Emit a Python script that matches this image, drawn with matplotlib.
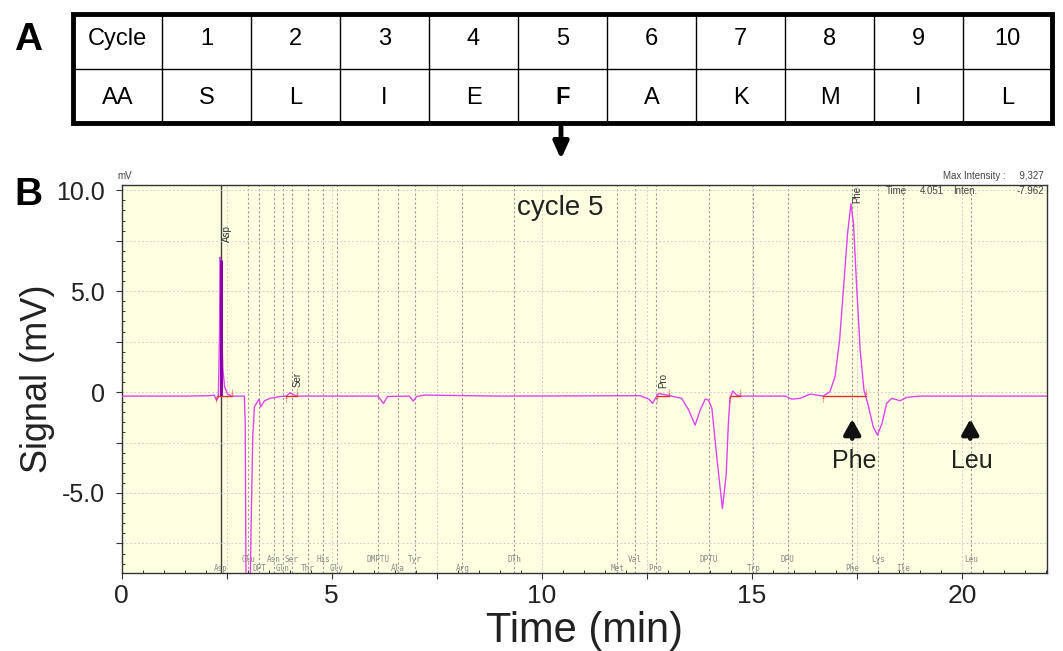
import numpy as np
import matplotlib.pyplot as plt
from matplotlib.ticker import MultipleLocator

plt.rcParams['font.family'] = ['Liberation Sans', 'DejaVu Sans']

# panel A: sequencing table
cycle_row = ["Cycle", "1", "2", "3", "4", "5", "6", "7", "8", "9", "10"]
aa_row = ["AA", "S", "L", "I", "E", "F", "A", "K", "M", "I", "L"]

# panel B: chromatogram trace (min, mV)
trace_t = [0.0, 1.5, 2.10, 2.20, 2.26, 2.30, 2.33, 2.34, 2.36, 2.38, 2.41, 2.45,
           2.52, 2.62, 2.92, 2.94, 2.96, 3.06, 3.08, 3.12, 3.16, 3.23, 3.27,
           3.31, 3.40, 3.53, 3.77, 3.92, 4.01, 4.10, 4.20, 6.10, 6.23, 6.33,
           6.85, 6.94, 7.02, 7.20, 9.0, 12.34, 12.55, 12.64, 12.72, 12.78,
           12.90, 13.05, 13.33, 13.50, 13.65, 13.77, 13.89, 13.97, 14.05,
           14.17, 14.30, 14.39, 14.44, 14.48, 14.55, 14.64, 14.75, 15.80,
           15.95, 16.15, 16.39, 16.70, 16.86, 16.98, 17.09, 17.18, 17.28,
           17.36, 17.42, 17.50, 17.58, 17.67, 17.78, 17.89, 17.99, 18.10,
           18.21, 18.33, 18.53, 18.69, 19.0, 22.02]
trace_mv = [-0.20, -0.20, -0.18, -0.15, -0.42, -0.25, 3.0, 6.68, 6.5, 3.0, 1.1, 0.26,
            -0.10, -0.20, -0.20, -1.5, -9.5, -9.5, -6.7, -2.2, -0.73, -0.48, -0.36,
            -0.73, -0.43, -0.31, -0.22, -0.20, -0.03, -0.15, -0.20, -0.20, -0.56, -0.22,
            -0.20, -0.45, -0.22, -0.15, -0.20, -0.18, -0.35, -0.56, -0.25, -0.07,
            -0.12, -0.18, -0.31, -0.90, -1.64, -0.90, -0.35, -0.40, -0.81,
            -3.29, -5.77, -4.10, -1.64, -0.30, 0.05, -0.15, -0.20, -0.20,
            -0.35, -0.31, -0.10, -0.20, 0.02, 0.76, 2.58, 5.06, 7.87,
            9.33, 8.36, 5.06, 2.08, 0.10, -0.73, -1.72, -2.13, -1.55,
            -0.56, -0.31, -0.43, -0.26, -0.20, -0.20]
asp_spike_t = 2.355
asp_spike_top = 6.55
baseline = -0.2

# integrated peaks (start, end)
peak_start = [2.26, 3.91, 12.74, 14.48, 16.70]
peak_end = [2.62, 4.17, 13.03, 14.72, 17.71]

# peak names written on the trace
peak_names = ["Asp", "Ser", "Pro", "Phe"]
peak_name_t = [2.50, 4.18, 12.90, 17.50]
peak_name_y = [7.44, 0.25, 0.20, 9.37]

# standard retention times
std_names_top = ["Glu", "Asn", "Ser", "His", "DMPTU", "Tyr", "DTh", "Val",
                 "DPTU", "DPU", "Lys", "Leu"]
std_t_top = [3.01, 3.63, 4.05, 4.80, 6.10, 6.98, 9.35, 12.22, 13.97, 15.86,
             18.01, 20.22]
std_names_low = ["Asp", "DPT", "Gln", "Thr", "Gly", "Ala", "Arg", "Met", "Pro",
                 "Trp", "Phe", "Ile"]
std_t_low = [2.36, 3.27, 3.83, 4.43, 5.12, 6.57, 8.11, 11.80, 12.71, 15.04,
             17.38, 18.60]

x_ticks = [0, 2.5, 5, 7.5, 10, 12.5, 15, 17.5, 20]
x_tick_text = ["0", "", "5", "", "10", "", "15", "", "20"]
y_ticks = [-7.5, -5, -2.5, 0, 2.5, 5, 7.5, 10]
y_tick_text = ["", "-5.0", "", "0", "", "5.0", "", "10.0"]

# arrows marking the expected residues
mark_names = ["Phe", "Leu"]
mark_t = [17.39, 20.20]

fig = plt.figure(figsize=(10.63, 6.51), dpi=100)

# overlay in pixel coordinates for panel A and labels
top = fig.add_axes([0, 0, 1, 1])
top.set_xlim(0, 1063)
top.set_ylim(651, 0)
top.axis('off')

tx0, tx1, ty0, ty1 = 73, 1052, 14, 123
cw = (tx1 - tx0) / len(cycle_row)
ymid = (ty0 + ty1) / 2
for i in range(1, len(cycle_row)):
    top.plot([tx0 + i * cw] * 2, [ty0, ty1], color='black', lw=1)
top.plot([tx0, tx1], [ymid, ymid], color='black', lw=1)
top.add_patch(plt.Rectangle((tx0, ty0), tx1 - tx0, ty1 - ty0, fill=False,
                            ec='black', lw=3.5))
for i, (c, a) in enumerate(zip(cycle_row, aa_row)):
    xc = tx0 + (i + 0.5) * cw
    top.text(xc, (ty0 + ymid) / 2 - 2, c, ha='center', va='center', fontsize=17)
    top.text(xc, (ymid + ty1) / 2 + 2, a, ha='center', va='center', fontsize=17,
             fontweight='bold' if a == "F" else 'normal')

top.text(28, 40, "A", ha='center', va='center', fontsize=28, fontweight='bold')
top.text(28, 195, "B", ha='center', va='center', fontsize=28, fontweight='bold')
top.annotate("", xy=(561, 162), xytext=(561, 124),
             arrowprops=dict(arrowstyle='-|>,head_width=0.45,head_length=1.0',
                             color='black', lw=3.5))

# panel B
ax = fig.add_axes([121.7 / 1063, (651 - 573.3) / 651, 925 / 1063, 388.3 / 651])
ax.set_facecolor('#ffffe2')
ax.set_xlim(0, 22.02)
ax.set_ylim(-8.98, 10.26)

ax.set_xticks(x_ticks)
ax.set_xticklabels(x_tick_text, fontsize=19, color='#222222')
ax.set_yticks(y_ticks)
ax.set_yticklabels(y_tick_text, fontsize=18, color='#222222')
ax.xaxis.set_minor_locator(MultipleLocator(0.5))
ax.yaxis.set_minor_locator(MultipleLocator(0.5))
ax.tick_params(which='major', length=4, width=0.8, color='#333333',
               direction='out', pad=4)
ax.tick_params(axis='y', which='major', pad=8)
ax.tick_params(which='minor', length=2.5, width=0.7, color='#333333',
               direction='in')
ax.grid(True, which='major', color='#cfcfcf', ls=(0, (2, 2)), lw=0.7)
for s in ax.spines.values():
    s.set_color('#333333')
    s.set_linewidth(1.0)

for t in std_t_top + std_t_low:
    if t != std_t_low[0]:
        ax.axvline(t, color='#9a9a9a', ls=(0, (2, 2)), lw=0.8, zorder=1)
ax.axvline(std_t_low[0], color='#404040', lw=1.0, zorder=1)

mono = dict(family='DejaVu Sans Mono', fontsize=5.5, color='#888888',
            ha='center', va='center')
for name, t in zip(std_names_top, std_t_top):
    ax.text(t, -8.28, name, **mono)
for name, t in zip(std_names_low, std_t_low):
    ax.text(t, -8.73, name, **mono)

ax.plot(trace_t, trace_mv, color='#dd44ee', lw=1.0, zorder=3)
ax.vlines(asp_spike_t, baseline, asp_spike_top, color='#8a00aa', lw=2.2, zorder=3)

for s, e in zip(peak_start, peak_end):
    ax.plot([s, e], [baseline, baseline], color='#e03030', lw=1.0, zorder=4)
    ax.text(s, baseline + 0.05, "\u2191", color='#e03030', fontsize=7,
            ha='center', va='top', zorder=4)
    ax.text(e, baseline - 0.05, "\u2193", color='#e03030', fontsize=7,
            ha='center', va='bottom', zorder=4)

for name, t, y in zip(peak_names, peak_name_t, peak_name_y):
    ax.text(t, y, name, rotation=90, fontsize=7, color='#333333',
            ha='center', va='bottom', zorder=5)

ax.text(10.44, 9.12, "cycle 5", fontsize=20, color='#222222',
        ha='center', va='center')

for name, t in zip(mark_names, mark_t):
    ax.annotate("", xy=(t, -1.2), xytext=(t, -2.45),
                arrowprops=dict(arrowstyle='-|>,head_width=0.5,head_length=0.9',
                                color='#111111', lw=3.2))
    ax.text(t + 0.05, -3.4, name, fontsize=18, color='#222222',
            ha='center', va='center')

ax.text(-0.1, 10.45, "mV", fontsize=7, color='#444444', ha='left', va='bottom')
ax.text(21.95, 10.45, "Max Intensity :     9,327", fontsize=7, color='#444444',
        ha='right', va='bottom')
ax.text(18.2, 10.2, "Time", fontsize=7, color='#444444', ha='left', va='top')
ax.text(19.0, 10.2, "4.051", fontsize=7, color='#444444', ha='left', va='top')
ax.text(19.8, 10.2, "Inten.", fontsize=7, color='#444444', ha='left', va='top')
ax.text(21.95, 10.2, "-7.962", fontsize=7, color='#444444', ha='right', va='top')

ax.set_xlabel("Time (min)", fontsize=30, color='#222222', labelpad=2)
ax.set_ylabel("Signal (mV)", fontsize=26, color='#222222', labelpad=1)

fig.savefig("out.png", dpi=100)
